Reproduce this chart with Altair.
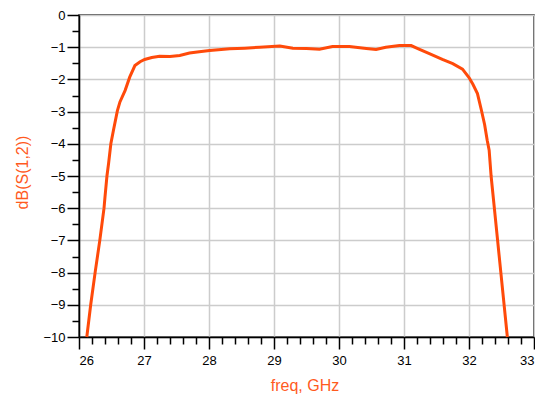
import altair as alt
import pandas as pd

freq = [26.12, 26.18, 26.25, 26.32, 26.385, 26.40, 26.43, 26.455, 26.49, 26.53, 26.59, 26.63,
        26.71, 26.78, 26.86, 26.94, 27.01, 27.12, 27.24, 27.40, 27.55, 27.70,
        27.85, 28.01, 28.32, 28.55, 28.78, 29.09, 29.29, 29.50, 29.70, 29.90,
        30.16, 30.42, 30.57, 30.72, 30.93, 31.11, 31.23, 31.39, 31.59, 31.75,
        31.90, 32.00, 32.06, 32.13, 32.19, 32.24, 32.28, 32.31, 32.34, 32.39,
        32.44, 32.49, 32.54, 32.59]
db = [-10.0, -9.0, -7.97, -7.0, -6.0, -5.65, -5.0, -4.61, -4.0, -3.58, -2.98, -2.70,
      -2.34, -1.93, -1.57, -1.45, -1.38, -1.32, -1.28, -1.29, -1.26, -1.18,
      -1.14, -1.10, -1.05, -1.03, -1.00, -0.96, -1.03, -1.04, -1.06, -0.98,
      -0.98, -1.04, -1.07, -1.00, -0.95, -0.95, -1.06, -1.20, -1.38, -1.51,
      -1.68, -1.94, -2.15, -2.44, -2.95, -3.40, -3.89, -4.20, -5.0, -6.0,
      -7.0, -8.0, -9.0, -10.0]

x_major = [26, 27, 28, 29, 30, 31, 32, 33]
y_major = [0, -1, -2, -3, -4, -5, -6, -7, -8, -9, -10]
x_minor = [round(26 + 0.2 * i, 1) for i in range(36) if i % 5 != 0]
y_minor = [-0.5 - i for i in range(10)]

df = pd.DataFrame({"freq": freq, "db": db})

FONT = "Liberation Sans"
ORANGE = "#ff4a0a"
TITLE_ORANGE = "#ff5a1e"

xscale = alt.Scale(domain=[26, 33], nice=False, zero=False)
yscale = alt.Scale(domain=[-10, 0], nice=False, zero=False)

line = alt.Chart(df).mark_line(color=ORANGE, strokeWidth=3).encode(
    x=alt.X("freq:Q", scale=xscale, axis=alt.Axis(
        values=x_major, orient="bottom", title="freq, GHz", grid=True,
        gridColor="#cccccc", gridWidth=1.5, domainColor="#000000", domainWidth=1.5,
        tickColor="#000000", tickWidth=1.5, tickSize=12, labelPadding=5,
        labelFont=FONT, labelFontSize=13, labelColor="#000000",
        titleFont=FONT, titleFontSize=16, titleColor=TITLE_ORANGE, titleFontWeight="normal",
        titleX=225.5, titleY=53, titleBaseline="alphabetic", titleAlign="center")),
    y=alt.Y("db:Q", scale=yscale, axis=alt.Axis(
        values=y_major, orient="left", title="dB(S(1,2))", grid=True,
        gridColor="#cccccc", gridWidth=1.5, domainColor="#000000", domainWidth=1.5,
        tickColor="#000000", tickWidth=1.5, tickSize=12, labelPadding=2,
        labelFont=FONT, labelFontSize=13, labelColor="#000000",
        titleFont=FONT, titleFontSize=16, titleColor=TITLE_ORANGE, titleFontWeight="normal",
        titleX=-56.5, titleY=157, titleAngle=-90, titleBaseline="middle", titleAlign="center")),
)

minor = alt.Chart(df).mark_point(opacity=0).encode(
    x=alt.X("freq:Q", scale=xscale, axis=alt.Axis(
        values=x_minor, orient="bottom", title=None, labels=False, grid=False,
        domain=False, tickColor="#000000", tickWidth=1.5, tickSize=7)),
    y=alt.Y("db:Q", scale=yscale, axis=alt.Axis(
        values=y_minor, orient="left", title=None, labels=False, grid=False,
        domain=False, tickColor="#000000", tickWidth=1.5, tickSize=7)),
)

chart = alt.layer(line, minor).resolve_axis(x="independent", y="independent").properties(
    width=455, height=322,
    autosize=alt.AutoSizeParams(type="none"),
    padding={"left": 71, "top": 7, "right": 1, "bottom": 58},
).configure_view(stroke="#222222", strokeWidth=1.5)

chart.save("out.html", embed_options={"renderer": "svg", "actions": False})
